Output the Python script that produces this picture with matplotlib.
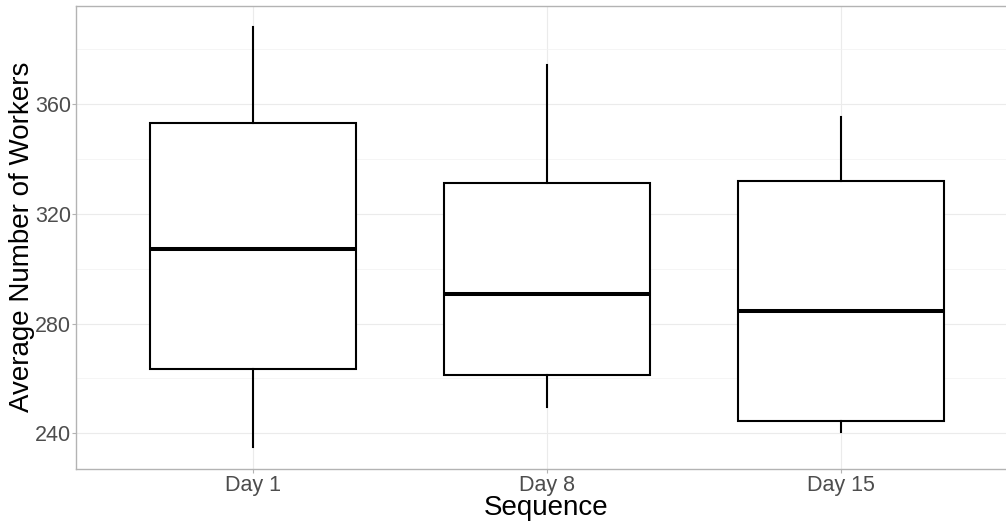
import matplotlib
matplotlib.use("Agg")
import matplotlib.pyplot as plt

plt.rcParams['font.family'] = ['Liberation Sans', 'DejaVu Sans']

# Box summary per sequence day
days = ["Day 1", "Day 8", "Day 15"]
whisker_low = [235.1, 249.6, 240.5]
q1 = [263.5, 261.1, 244.4]
median = [307.1, 290.8, 284.6]
q3 = [353.0, 331.1, 331.9]
whisker_high = [388.0, 374.2, 355.4]

y_ticks = [240, 280, 320, 360]
y_minor = [260, 300, 340, 380]

W, H = 1006, 524
fig = plt.figure(figsize=(W / 100, H / 100), dpi=100)
# panel extends a little past the right edge of the canvas
left, right, top, bottom = 76.3, 1017.1, 5.7, 468.5
ax = fig.add_axes([left / W, 1 - bottom / H, (right - left) / W, (bottom - top) / H])

stats = []
for i, d in enumerate(days):
    stats.append(dict(label=d, whislo=whisker_low[i], q1=q1[i], med=median[i],
                      q3=q3[i], whishi=whisker_high[i], fliers=[]))

positions = list(range(1, len(days) + 1))
ax.bxp(stats, positions=positions, widths=0.7, showcaps=False, showfliers=False,
       patch_artist=True,
       boxprops=dict(facecolor='white', edgecolor='black', linewidth=1.5),
       whiskerprops=dict(color='black', linewidth=1.5),
       medianprops=dict(color='black', linewidth=2.9, solid_capstyle='butt'),
       zorder=3)

ax.set_xlim(0.4, 3.6)
ax.set_ylim(227.2, 395.8)
ax.set_yticks(y_ticks)
ax.set_yticks(y_minor, minor=True)
ax.set_xticks(positions)
ax.set_xticklabels(days)

ax.grid(True, which='major', color='#EBEBEB', linewidth=0.8, zorder=0)
ax.grid(True, which='minor', axis='y', color='#F2F2F2', linewidth=0.5, zorder=0)
ax.set_axisbelow(True)

for s in ax.spines.values():
    s.set_color('#B3B3B3')
    s.set_linewidth(1.0)

ax.tick_params(axis='both', which='major', colors='#B3B3B3', length=3, width=0.8,
               labelcolor='#4D4D4D', labelsize=15.5)
ax.tick_params(axis='y', which='major', pad=1)
ax.tick_params(axis='x', which='major', pad=2)
ax.tick_params(axis='y', which='minor', length=0)

pw, ph = right - left, bottom - top
ax.set_xlabel("Sequence", fontsize=20, color='black')
ax.xaxis.label.set_va('baseline')
ax.xaxis.set_label_coords((546 - left) / pw, (bottom - 515) / ph)

ax.set_ylabel("Average Number of Workers", fontsize=20, color='black')
ax.yaxis.label.set_va('center')
ax.yaxis.label.set_ha('center')
ax.yaxis.set_label_coords((22 - left) / pw, (bottom - 237) / ph)

fig.savefig("out.png", dpi=100)
